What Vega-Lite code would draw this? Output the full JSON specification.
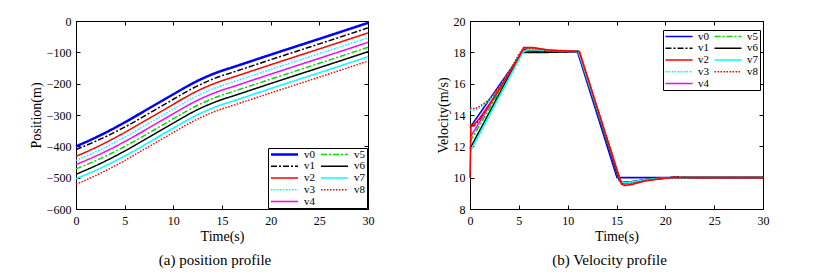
{
  "$schema": "https://vega.github.io/schema/vega-lite/v6.json",
  "background": "white",
  "padding": {"left": 28, "top": 14, "right": 5, "bottom": 5},
  "spacing": 60,
  "resolve": {"scale": {"color": "independent", "strokeDash": "independent", "strokeWidth": "independent"}},
  "datasets": {
    "pos": [
      {"s":"v0","t":0,"y":-400},{"s":"v0","t":1,"y":-386.5},{"s":"v0","t":2,"y":-372.2},{"s":"v0","t":3,"y":-356.9},{"s":"v0","t":4,"y":-340.7},{"s":"v0","t":5,"y":-323.6},{"s":"v0","t":5.5,"y":-314.8},{"s":"v0","t":6,"y":-305.8},{"s":"v0","t":8,"y":-269.8},{"s":"v0","t":10,"y":-233.8},{"s":"v0","t":11,"y":-215.8},{"s":"v0","t":12,"y":-198.7},{"s":"v0","t":13,"y":-183.5},{"s":"v0","t":14,"y":-170.1},{"s":"v0","t":15,"y":-158.6},{"s":"v0","t":16,"y":-148.6},{"s":"v0","t":20,"y":-107.5},{"s":"v0","t":25,"y":-57},{"s":"v0","t":30,"y":-6},
      {"s":"v1","t":0,"y":-410},{"s":"v1","t":1,"y":-397.5},{"s":"v1","t":2,"y":-384.2},{"s":"v1","t":3,"y":-369.9},{"s":"v1","t":4,"y":-354.7},{"s":"v1","t":5,"y":-338.6},{"s":"v1","t":5.5,"y":-330.3},{"s":"v1","t":6,"y":-321.8},{"s":"v1","t":8,"y":-285.8},{"s":"v1","t":10,"y":-249.8},{"s":"v1","t":11,"y":-231.8},{"s":"v1","t":12,"y":-214.7},{"s":"v1","t":13,"y":-199.5},{"s":"v1","t":14,"y":-186.1},{"s":"v1","t":15,"y":-174.6},{"s":"v1","t":16,"y":-164.6},{"s":"v1","t":20,"y":-123.5},{"s":"v1","t":25,"y":-73},{"s":"v1","t":30,"y":-22},
      {"s":"v2","t":0,"y":-432},{"s":"v2","t":1,"y":-418.5},{"s":"v2","t":2,"y":-404.2},{"s":"v2","t":3,"y":-388.9},{"s":"v2","t":4,"y":-372.7},{"s":"v2","t":5,"y":-355.6},{"s":"v2","t":5.5,"y":-346.8},{"s":"v2","t":6,"y":-337.8},{"s":"v2","t":8,"y":-301.8},{"s":"v2","t":10,"y":-265.8},{"s":"v2","t":11,"y":-247.8},{"s":"v2","t":12,"y":-230.7},{"s":"v2","t":13,"y":-215.5},{"s":"v2","t":14,"y":-202.1},{"s":"v2","t":15,"y":-190.6},{"s":"v2","t":16,"y":-180.6},{"s":"v2","t":20,"y":-139.5},{"s":"v2","t":25,"y":-89},{"s":"v2","t":30,"y":-38},
      {"s":"v3","t":0,"y":-445},{"s":"v3","t":1,"y":-431.8},{"s":"v3","t":2,"y":-417.9},{"s":"v3","t":3,"y":-402.9},{"s":"v3","t":4,"y":-387.0},{"s":"v3","t":5,"y":-370.3},{"s":"v3","t":5.5,"y":-361.6},{"s":"v3","t":6,"y":-352.8},{"s":"v3","t":8,"y":-316.8},{"s":"v3","t":10,"y":-280.8},{"s":"v3","t":11,"y":-262.8},{"s":"v3","t":12,"y":-245.7},{"s":"v3","t":13,"y":-230.5},{"s":"v3","t":14,"y":-217.1},{"s":"v3","t":15,"y":-205.6},{"s":"v3","t":16,"y":-195.6},{"s":"v3","t":20,"y":-154.5},{"s":"v3","t":25,"y":-104},{"s":"v3","t":30,"y":-53},
      {"s":"v4","t":0,"y":-458},{"s":"v4","t":1,"y":-445.2},{"s":"v4","t":2,"y":-431.5},{"s":"v4","t":3,"y":-416.9},{"s":"v4","t":4,"y":-401.4},{"s":"v4","t":5,"y":-384.9},{"s":"v4","t":5.5,"y":-376.5},{"s":"v4","t":6,"y":-367.8},{"s":"v4","t":8,"y":-331.8},{"s":"v4","t":10,"y":-295.8},{"s":"v4","t":11,"y":-277.8},{"s":"v4","t":12,"y":-260.7},{"s":"v4","t":13,"y":-245.5},{"s":"v4","t":14,"y":-232.1},{"s":"v4","t":15,"y":-220.6},{"s":"v4","t":16,"y":-210.6},{"s":"v4","t":20,"y":-169.5},{"s":"v4","t":25,"y":-119},{"s":"v4","t":30,"y":-68},
      {"s":"v5","t":0,"y":-472},{"s":"v5","t":1,"y":-459.5},{"s":"v5","t":2,"y":-446.2},{"s":"v5","t":3,"y":-431.9},{"s":"v5","t":4,"y":-416.7},{"s":"v5","t":5,"y":-400.6},{"s":"v5","t":5.5,"y":-392.3},{"s":"v5","t":6,"y":-383.8},{"s":"v5","t":8,"y":-347.8},{"s":"v5","t":10,"y":-311.8},{"s":"v5","t":11,"y":-293.8},{"s":"v5","t":12,"y":-276.7},{"s":"v5","t":13,"y":-261.5},{"s":"v5","t":14,"y":-248.1},{"s":"v5","t":15,"y":-236.6},{"s":"v5","t":16,"y":-226.6},{"s":"v5","t":20,"y":-185.5},{"s":"v5","t":25,"y":-135},{"s":"v5","t":30,"y":-84},
      {"s":"v6","t":0,"y":-489},{"s":"v6","t":1,"y":-476},{"s":"v6","t":2,"y":-462.2},{"s":"v6","t":3,"y":-447.4},{"s":"v6","t":4,"y":-431.7},{"s":"v6","t":5,"y":-415.1},{"s":"v6","t":5.5,"y":-406.6},{"s":"v6","t":6,"y":-397.8},{"s":"v6","t":8,"y":-361.8},{"s":"v6","t":10,"y":-325.8},{"s":"v6","t":11,"y":-307.8},{"s":"v6","t":12,"y":-290.7},{"s":"v6","t":13,"y":-275.5},{"s":"v6","t":14,"y":-262.1},{"s":"v6","t":15,"y":-250.6},{"s":"v6","t":16,"y":-240.6},{"s":"v6","t":20,"y":-199.5},{"s":"v6","t":25,"y":-149},{"s":"v6","t":30,"y":-98},
      {"s":"v7","t":0,"y":-503},{"s":"v7","t":1,"y":-490.3},{"s":"v7","t":2,"y":-476.9},{"s":"v7","t":3,"y":-462.4},{"s":"v7","t":4,"y":-447.0},{"s":"v7","t":5,"y":-430.8},{"s":"v7","t":5.5,"y":-422.4},{"s":"v7","t":6,"y":-413.8},{"s":"v7","t":8,"y":-377.8},{"s":"v7","t":10,"y":-341.8},{"s":"v7","t":11,"y":-323.8},{"s":"v7","t":12,"y":-306.7},{"s":"v7","t":13,"y":-291.5},{"s":"v7","t":14,"y":-278.1},{"s":"v7","t":15,"y":-266.6},{"s":"v7","t":16,"y":-256.6},{"s":"v7","t":20,"y":-215.5},{"s":"v7","t":25,"y":-165},{"s":"v7","t":30,"y":-114},
      {"s":"v8","t":0,"y":-521},{"s":"v8","t":1,"y":-507.7},{"s":"v8","t":2,"y":-493.5},{"s":"v8","t":3,"y":-478.4},{"s":"v8","t":4,"y":-462.4},{"s":"v8","t":5,"y":-445.4},{"s":"v8","t":5.5,"y":-436.7},{"s":"v8","t":6,"y":-427.8},{"s":"v8","t":8,"y":-391.8},{"s":"v8","t":10,"y":-355.8},{"s":"v8","t":11,"y":-337.8},{"s":"v8","t":12,"y":-320.7},{"s":"v8","t":13,"y":-305.5},{"s":"v8","t":14,"y":-292.1},{"s":"v8","t":15,"y":-280.6},{"s":"v8","t":16,"y":-270.6},{"s":"v8","t":20,"y":-229.5},{"s":"v8","t":25,"y":-179},{"s":"v8","t":30,"y":-128}
    ],
    "vel": [
      {"s":"v0","t":0,"y":13.2},{"s":"v0","t":5.4,"y":18.05},{"s":"v0","t":11.0,"y":18.05},{"s":"v0","t":15.05,"y":10.0},{"s":"v0","t":30,"y":10.0},
      {"s":"v1","t":0,"y":13.35},{"s":"v1","t":0.4,"y":13.3},{"s":"v1","t":1,"y":13.75},{"s":"v1","t":2,"y":14.65},{"s":"v1","t":3,"y":15.6},{"s":"v1","t":4,"y":16.6},{"s":"v1","t":5,"y":17.6},{"s":"v1","t":5.5,"y":18.2},{"s":"v1","t":6.5,"y":18.2},{"s":"v1","t":8,"y":18.1},{"s":"v1","t":11.1,"y":18.05},{"s":"v1","t":15.3,"y":9.85},{"s":"v1","t":15.6,"y":9.7},{"s":"v1","t":16.5,"y":9.72},{"s":"v1","t":18,"y":9.88},{"s":"v1","t":20,"y":9.98},{"s":"v1","t":21,"y":10.02},{"s":"v1","t":23,"y":10.0},{"s":"v1","t":30,"y":10.0},
      {"s":"v3","t":0,"y":14.3},{"s":"v3","t":0.5,"y":14.3},{"s":"v3","t":1,"y":14.45},{"s":"v3","t":2,"y":14.95},{"s":"v3","t":3,"y":15.75},{"s":"v3","t":4,"y":16.75},{"s":"v3","t":5,"y":17.85},{"s":"v3","t":5.5,"y":18.25},{"s":"v3","t":6.5,"y":18.2},{"s":"v3","t":8,"y":18.1},{"s":"v3","t":11.1,"y":18.05},{"s":"v3","t":15.4,"y":9.75},{"s":"v3","t":15.7,"y":9.65},{"s":"v3","t":16.5,"y":9.68},{"s":"v3","t":18,"y":9.85},{"s":"v3","t":20,"y":9.97},{"s":"v3","t":22,"y":10.0},{"s":"v3","t":30,"y":10.0},
      {"s":"v4","t":0,"y":12.55},{"s":"v4","t":5.4,"y":18.1},{"s":"v4","t":6.5,"y":18.15},{"s":"v4","t":8,"y":18.08},{"s":"v4","t":11.1,"y":18.05},{"s":"v4","t":15.3,"y":9.8},{"s":"v4","t":15.6,"y":9.65},{"s":"v4","t":16.5,"y":9.68},{"s":"v4","t":18,"y":9.85},{"s":"v4","t":20,"y":9.97},{"s":"v4","t":22,"y":10.0},{"s":"v4","t":30,"y":10.0},
      {"s":"v5","t":0,"y":12.3},{"s":"v5","t":5.4,"y":18.05},{"s":"v5","t":6.5,"y":18.1},{"s":"v5","t":8,"y":18.05},{"s":"v5","t":11.1,"y":18.05},{"s":"v5","t":15.3,"y":9.8},{"s":"v5","t":15.6,"y":9.68},{"s":"v5","t":16.5,"y":9.7},{"s":"v5","t":18,"y":9.86},{"s":"v5","t":20,"y":9.98},{"s":"v5","t":22,"y":10.0},{"s":"v5","t":30,"y":10.0},
      {"s":"v6","t":0,"y":11.85},{"s":"v6","t":5.3,"y":18.0},{"s":"v6","t":8,"y":18.0},{"s":"v6","t":11.1,"y":18.05},{"s":"v6","t":15.3,"y":9.85},{"s":"v6","t":15.6,"y":9.72},{"s":"v6","t":16.5,"y":9.74},{"s":"v6","t":18,"y":9.88},{"s":"v6","t":20,"y":9.98},{"s":"v6","t":21,"y":10.02},{"s":"v6","t":23,"y":10.0},{"s":"v6","t":30,"y":10.0},
      {"s":"v7","t":0,"y":11.65},{"s":"v7","t":5.4,"y":18.0},{"s":"v7","t":6,"y":18.2},{"s":"v7","t":7,"y":18.15},{"s":"v7","t":11.1,"y":18.05},{"s":"v7","t":15.4,"y":9.8},{"s":"v7","t":15.7,"y":9.7},{"s":"v7","t":16.5,"y":9.72},{"s":"v7","t":18,"y":9.88},{"s":"v7","t":20,"y":9.98},{"s":"v7","t":22,"y":10.0},{"s":"v7","t":30,"y":10.0},
      {"s":"v8","t":0,"y":14.45},{"s":"v8","t":0.5,"y":14.4},{"s":"v8","t":1,"y":14.55},{"s":"v8","t":2,"y":15.0},{"s":"v8","t":3,"y":15.75},{"s":"v8","t":4,"y":16.75},{"s":"v8","t":5,"y":17.85},{"s":"v8","t":5.5,"y":18.3},{"s":"v8","t":6.5,"y":18.25},{"s":"v8","t":8,"y":18.12},{"s":"v8","t":11.2,"y":18.05},{"s":"v8","t":15.5,"y":9.65},{"s":"v8","t":15.8,"y":9.55},{"s":"v8","t":16.5,"y":9.6},{"s":"v8","t":18,"y":9.82},{"s":"v8","t":20,"y":9.97},{"s":"v8","t":22,"y":10.0},{"s":"v8","t":30,"y":10.0},
      {"s":"v2","t":0,"y":10},{"s":"v2","t":0.1,"y":13.4},{"s":"v2","t":0.4,"y":13.35},{"s":"v2","t":1,"y":13.8},{"s":"v2","t":2,"y":14.7},{"s":"v2","t":3,"y":15.65},{"s":"v2","t":4,"y":16.65},{"s":"v2","t":5,"y":17.7},{"s":"v2","t":5.5,"y":18.3},{"s":"v2","t":6.5,"y":18.3},{"s":"v2","t":8,"y":18.15},{"s":"v2","t":11.2,"y":18.05},{"s":"v2","t":15.5,"y":9.6},{"s":"v2","t":15.8,"y":9.5},{"s":"v2","t":16.5,"y":9.55},{"s":"v2","t":18,"y":9.8},{"s":"v2","t":20,"y":9.97},{"s":"v2","t":21,"y":10.02},{"s":"v2","t":23,"y":10.0},{"s":"v2","t":30,"y":10.0}
    ]
  },
  "hconcat": [
    {
      "width": 292,
      "height": 188,
      "data": {"name": "pos"},
      "title": {"text": "(a) position profile", "orient": "bottom", "anchor": "middle", "frame": "group", "dx": -7, "offset": 10, "fontSize": 15, "font": "Liberation Serif", "fontWeight": "normal", "color": "black"},
      "layer": [
        {
          "mark": {"type": "line", "interpolate": "monotone"},
          "encoding": {
            "x": {"field": "t", "type": "quantitative", "scale": {"domain": [0, 30], "nice": false}, "axis": {"title": "Time(s)", "values": [0, 5, 10, 15, 20, 25, 30]}},
            "y": {"field": "y", "type": "quantitative", "scale": {"domain": [-600, 0], "nice": false}, "axis": {"title": "Position(m)", "values": [-600, -500, -400, -300, -200, -100, 0]}},
            "color": {"field": "s", "type": "nominal", "scale": {"domain": ["v0","v1","v2","v3","v4","v5","v6","v7","v8"], "range": ["#0000ff","#000000","#ff0000","#00ffff","#ff00ff","#00dd00","#000000","#00ffff","#ff0000"]}, "legend": {"orient": "none", "legendX": 192, "legendY": 127}},
            "strokeDash": {"field": "s", "type": "nominal", "scale": {"domain": ["v0","v1","v2","v3","v4","v5","v6","v7","v8"], "range": [[1,0],[6,2,2,2],[1,0],[1.5,1.5],[1,0],[6,2,2,2],[1,0],[1,0],[1.5,1.5]]}, "legend": {"orient": "none", "legendX": 192, "legendY": 127}},
            "strokeWidth": {"field": "s", "type": "nominal", "scale": {"type": "ordinal", "domain": ["v0","v1","v2","v3","v4","v5","v6","v7","v8"], "range": [2.5,1.5,1.5,1.5,1.5,1.5,1.5,1.5,1.5]}, "legend": {"orient": "none", "legendX": 192, "legendY": 127}}
          }
        },
        {
          "mark": {"type": "point", "opacity": 0},
          "encoding": {
            "x": {"field": "t", "type": "quantitative", "scale": {"domain": [0, 30], "nice": false}, "axis": {"orient": "top", "labels": false, "title": null, "domain": false, "values": [0, 5, 10, 15, 20, 25, 30]}},
            "y": {"field": "y", "type": "quantitative", "scale": {"domain": [-600, 0], "nice": false}, "axis": {"orient": "right", "labels": false, "title": null, "domain": false, "values": [-600, -500, -400, -300, -200, -100, 0]}}
          }
        }
      ],
      "resolve": {"axis": {"x": "independent", "y": "independent"}}
    },
    {
      "width": 293,
      "height": 188,
      "data": {"name": "vel"},
      "title": {"text": "(b) Velocity profile", "orient": "bottom", "anchor": "middle", "frame": "group", "dx": -7, "offset": 10, "fontSize": 15, "font": "Liberation Serif", "fontWeight": "normal", "color": "black"},
      "layer": [
        {
          "mark": {"type": "line", "strokeWidth": 1.6},
          "encoding": {
            "x": {"field": "t", "type": "quantitative", "scale": {"domain": [0, 30], "nice": false}, "axis": {"title": "Time(s)", "values": [0, 5, 10, 15, 20, 25, 30]}},
            "y": {"field": "y", "type": "quantitative", "scale": {"domain": [8, 20], "nice": false}, "axis": {"title": "Velocity(m/s)", "values": [8, 10, 12, 14, 16, 18, 20]}},
            "color": {"field": "s", "type": "nominal", "scale": {"domain": ["v0","v1","v2","v3","v4","v5","v6","v7","v8"], "range": ["#0000ff","#000000","#ff0000","#00ffff","#ff00ff","#00dd00","#000000","#00ffff","#ff0000"]}, "legend": {"orient": "none", "legendX": 193, "legendY": 9, "symbolStrokeWidth": 1.6}},
            "strokeDash": {"field": "s", "type": "nominal", "scale": {"domain": ["v0","v1","v2","v3","v4","v5","v6","v7","v8"], "range": [[1,0],[6,2,2,2],[1,0],[1.5,1.5],[1,0],[6,2,2,2],[1,0],[1,0],[1.5,1.5]]}, "legend": {"orient": "none", "legendX": 193, "legendY": 9, "symbolStrokeWidth": 1.6}}
          }
        },
        {
          "mark": {"type": "point", "opacity": 0},
          "encoding": {
            "x": {"field": "t", "type": "quantitative", "scale": {"domain": [0, 30], "nice": false}, "axis": {"orient": "top", "labels": false, "title": null, "domain": false, "values": [0, 5, 10, 15, 20, 25, 30]}},
            "y": {"field": "y", "type": "quantitative", "scale": {"domain": [8, 20], "nice": false}, "axis": {"orient": "right", "labels": false, "title": null, "domain": false, "values": [8, 10, 12, 14, 16, 18, 20]}}
          }
        }
      ],
      "resolve": {"axis": {"x": "independent", "y": "independent"}}
    }
  ],
  "config": {
    "font": "Liberation Serif",
    "view": {"stroke": "black", "strokeWidth": 1},
    "axis": {
      "grid": false,
      "domainColor": "black",
      "tickColor": "black",
      "labelColor": "black",
      "titleColor": "black",
      "labelFont": "Liberation Serif",
      "titleFont": "Liberation Serif",
      "labelFontSize": 12,
      "titleFontSize": 14,
      "titleFontWeight": "normal",
      "tickSize": -4,
      "labelFlush": false,
      "labelOverlap": false
    },
    "axisY": {"titlePadding": 3, "labelPadding": 9},
    "axisX": {"titlePadding": 3, "labelPadding": 10},
    "legend": {
      "columns": 2,
      "title": null,
      "symbolType": "stroke",
      "symbolSize": 729,
      "clipHeight": 10,
      "rowPadding": 0.75,
      "columnPadding": 4,
      "padding": 1.5,
      "labelOffset": 4.5,
      "labelFontSize": 11,
      "labelFont": "Liberation Serif",
      "labelColor": "black",
      "strokeColor": "black",
      "fillColor": "white"
    }
  }
}
